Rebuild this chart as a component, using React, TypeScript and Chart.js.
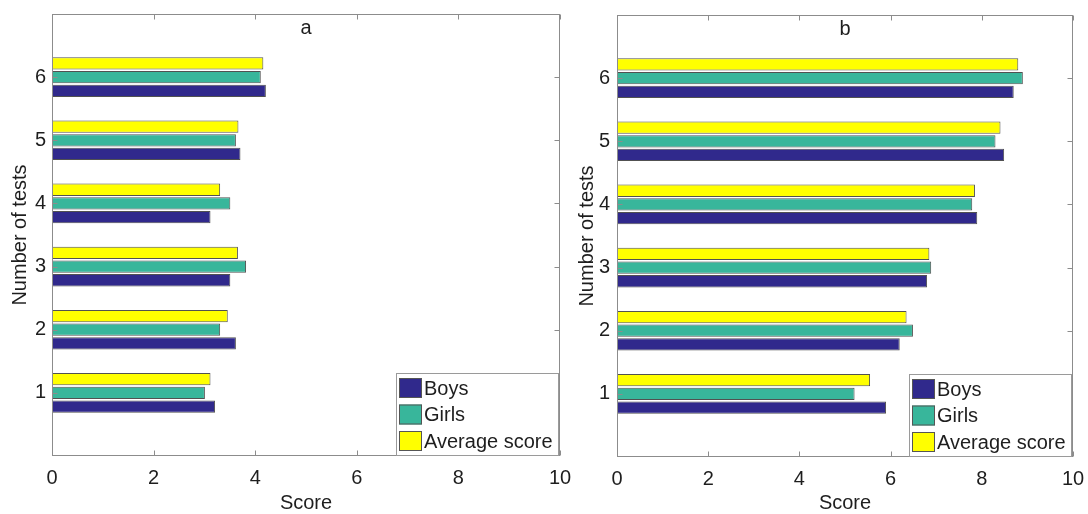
import React, { useEffect, useRef } from 'react';
import { Chart, registerables } from 'chart.js';

Chart.register(...registerables);

// ---------- data ----------
const tests = [1, 2, 3, 4, 5, 6];
const seriesNames = ['Boys', 'Girls', 'Average score'];
const boysA = [3.21, 3.62, 3.51, 3.12, 3.71, 4.21];
const girlsA = [3.01, 3.31, 3.82, 3.51, 3.62, 4.11];
const avgA = [3.12, 3.46, 3.66, 3.31, 3.67, 4.16];
const boysB = [5.9, 6.2, 6.8, 7.9, 8.49, 8.7];
const girlsB = [5.21, 6.49, 6.89, 7.79, 8.3, 8.9];
const avgB = [5.55, 6.35, 6.85, 7.85, 8.41, 8.8];
const xTickStep = 2;
const xMin = 0;
const xMax = 10;
const yMin = 0;
const yMax = 7;
const panelTitles = ['a', 'b'];
const xTitle = 'Score';
const yTitle = 'Number of tests';

// ---------- styles ----------
const seriesColors = ['#30298c', '#38b69b', '#ffff00'];
const FONT = "'Liberation Sans', Arial, sans-serif";
const TEXT = '#1e1e1e';
const AXIS = '#8c8c8c';

type PanelCfg = {
  left: number;
  width: number;
  yAxisWidth: number;
  xAxisHeight: number;
  padTop: number;
  padRight: number;
  yTitlePad: number;
  yTickPad: number;
};

const panelCfgs: PanelCfg[] = [
  { left: 0, width: 572, yAxisWidth: 52, xAxisHeight: 58, padTop: 14, padRight: 12, yTitlePad: 8, yTickPad: 6 },
  { left: 572, width: 516, yAxisWidth: 45, xAxisHeight: 57, padTop: 15, padRight: 15, yTitlePad: 3, yTickPad: 7 },
];

const panelData = [
  [boysA, girlsA, avgA],
  [boysB, girlsB, avgB],
];

const framePlugin = {
  id: 'frame',
  afterDatasetsDraw(chart: any) {
    const { ctx, chartArea } = chart;
    const xs = chart.scales.x;
    const ys = chart.scales.y;
    const L = Math.round(chartArea.left) + 0.5;
    const R = Math.round(chartArea.right) - 0.5;
    const T = Math.round(chartArea.top) + 0.5;
    const B = Math.round(chartArea.bottom) - 0.5;
    ctx.save();
    ctx.strokeStyle = AXIS;
    ctx.lineWidth = 1;
    ctx.strokeRect(L, T, R - L, B - T);
    const tl = 5;
    ctx.beginPath();
    xs.ticks.forEach((t: any) => {
      const px = Math.round(xs.getPixelForValue(t.value)) + 0.5;
      ctx.moveTo(px, B);
      ctx.lineTo(px, B - tl);
      ctx.moveTo(px, T);
      ctx.lineTo(px, T + tl);
    });
    ys.ticks.forEach((t: any) => {
      if (t.value < 1 || t.value > 6) return;
      const py = Math.round(ys.getPixelForValue(t.value)) + 0.5;
      ctx.moveTo(L, py);
      ctx.lineTo(L + tl, py);
      ctx.moveTo(R, py);
      ctx.lineTo(R - tl, py);
    });
    ctx.stroke();
    ctx.restore();
  },
};

const titleLegendPlugin = {
  id: 'titleLegend',
  afterDraw(chart: any, _args: any, opts: any) {
    const { ctx, chartArea } = chart;
    ctx.save();
    ctx.font = `20px ${FONT}`;
    ctx.fillStyle = TEXT;
    ctx.textAlign = 'center';
    ctx.textBaseline = 'middle';
    ctx.fillText(opts.title, (chartArea.left + chartArea.right) / 2, chartArea.top + 14);

    // legend box
    const w = 162;
    const h = 82;
    const right = Math.round(chartArea.right) - 2;
    const bottom = Math.round(chartArea.bottom) - 1;
    const left = right - w;
    const top = bottom - h;
    ctx.fillStyle = '#ffffff';
    ctx.fillRect(left, top, w, h);
    ctx.strokeStyle = '#9a9a9a';
    ctx.lineWidth = 1;
    ctx.strokeRect(left + 0.5, top + 0.5, w, h);
    ctx.textAlign = 'left';
    seriesNames.forEach((name, i) => {
      const ds = chart.data.datasets.find((d: any) => d.label === name);
      const sy = top + 5 + i * 26.5;
      ctx.fillStyle = ds.backgroundColor;
      ctx.fillRect(left + 3, sy, 23, 20);
      ctx.strokeStyle = '#555';
      ctx.strokeRect(left + 3.5, sy + 0.5, 22, 19);
      ctx.fillStyle = TEXT;
      ctx.fillText(name, left + 28, sy + 11);
    });
    ctx.restore();
  },
};

function Panel({ idx }: { idx: number }) {
  const ref = useRef<HTMLCanvasElement | null>(null);
  const cfg = panelCfgs[idx];
  useEffect(() => {
    if (!ref.current) return;
    const values = panelData[idx];
    // order top-to-bottom inside a group: Average, Girls, Boys
    const order = [2, 1, 0];
    const chart = new Chart(ref.current, {
      type: 'bar',
      data: {
        labels: tests,
        datasets: order.map((s) => ({
          label: seriesNames[s],
          data: values[s],
          backgroundColor: seriesColors[s],
          borderColor: 'rgba(50,50,50,0.85)',
          borderWidth: 1,
          borderSkipped: false,
          categoryPercentage: 0.65,
          barPercentage: 0.9,
        })),
      },
      options: {
        indexAxis: 'y',
        responsive: false,
        animation: false,
        layout: { padding: { top: cfg.padTop, right: cfg.padRight, left: 0, bottom: 0 } },
        plugins: {
          legend: { display: false },
          tooltip: { enabled: false },
          titleLegend: { title: panelTitles[idx] },
        } as any,
        scales: {
          x: {
            type: 'linear',
            min: xMin,
            max: xMax,
            grid: { display: false, drawTicks: false },
            border: { display: false },
            ticks: {
              stepSize: xTickStep,
              padding: 10,
              color: TEXT,
              font: { family: FONT, size: 20 },
              maxRotation: 0,
            },
            title: {
              display: true,
              text: xTitle,
              color: TEXT,
              font: { family: FONT, size: 20, lineHeight: 1 },
              padding: { top: 0, bottom: 1 },
            },
            afterFit: (s: any) => {
              s.height = cfg.xAxisHeight;
              s.paddingLeft = 0;
              s.paddingRight = 0;
            },
          },
          y: {
            type: 'linear',
            min: yMin,
            max: yMax,
            offset: false,
            grid: { display: false, drawTicks: false, offset: false },
            border: { display: false },
            ticks: {
              stepSize: 1,
              padding: cfg.yTickPad,
              color: TEXT,
              font: { family: FONT, size: 20 },
              callback: (v: any) => (tests.includes(Number(v)) ? String(v) : ''),
            },
            title: {
              display: true,
              text: yTitle,
              color: TEXT,
              font: { family: FONT, size: 20, lineHeight: 1.2 },
              padding: { top: cfg.yTitlePad, bottom: 0 },
            },
            afterFit: (s: any) => {
              s.width = cfg.yAxisWidth;
              s.paddingTop = 0;
              s.paddingBottom = 0;
            },
          },
        },
      } as any,
      plugins: [framePlugin, titleLegendPlugin],
    });
    return () => chart.destroy();
  }, [idx]);
  return (
    <div style={{ position: 'absolute', left: cfg.left, top: 0, width: cfg.width, height: 514 }}>
      <canvas ref={ref} width={cfg.width} height={514} style={{ width: cfg.width, height: 514, display: 'block' }} />
    </div>
  );
}

export default function App() {
  return (
    <div style={{ position: 'fixed', left: 0, top: 0, width: 1088, height: 514, background: '#ffffff' }}>
      <Panel idx={0} />
      <Panel idx={1} />
    </div>
  );
}
